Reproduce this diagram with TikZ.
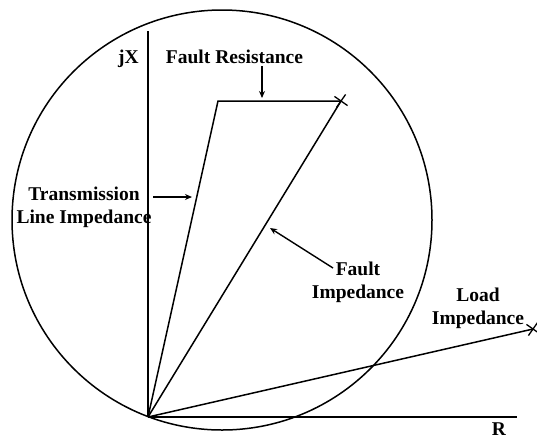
\documentclass[tikz,border=0pt]{standalone}
\usepackage{fontspec}
\setmainfont{Liberation Serif}
\usetikzlibrary{arrows.meta,shapes.misc}
\begin{document}
\begin{tikzpicture}[x=1pt,y=-1pt,
  ln/.style={line width=1.5pt},
  arr/.style={line width=1.4pt,-{Stealth[length=7pt,width=6pt]}},
  lbl/.style={font=\fontsize{19.5}{23}\selectfont\bfseries,inner sep=0pt,align=center},
  xmark/.style={cross out,draw,line width=1.3pt,minimum size=10pt,inner sep=0pt,rotate=10}]
\useasboundingbox (0,0) rectangle (537,440);
\fill[white] (0,0) rectangle (537,440);
% key points
\coordinate (O) at (148,417);
\coordinate (A) at (218,101);
\coordinate (F) at (341,101);
\coordinate (L) at (533,329);
\coordinate (Ytop) at (148,31);
\coordinate (Xend) at (517,417);
% circle
\draw[ln] (222,220) circle[radius=210];
% axes
\draw[ln] (O) -- (Ytop);
\draw[ln] (O) -- (Xend);
% impedance lines
\draw[ln] (O) -- (A) -- (F);
\draw[ln] (O) -- (F);
\draw[ln] (O) -- (L);
\node[xmark] (fx) at (F) {};
\node[xmark] (lx) at (L) {};
% labels
\node[lbl,anchor=base] (jx) at (128.5,63) {jX};
\node[lbl,anchor=base] (fr) at (234.5,63) {Fault Resistance};
\node[lbl] (tl) at (84,207) {Transmission\\Line Impedance};
\node[lbl] (fi) at (358,282) {Fault\\Impedance};
\node[lbl] (li) at (478,308) {Load\\Impedance};
\node[lbl,anchor=base] (r) at (499,435) {R};
% arrows
\coordinate (fra) at (262,66);
\coordinate (frb) at (262,98);
\coordinate (tla) at (153,197);
\coordinate (tlb) at (192,197);
\coordinate (fia) at (333,268);
\coordinate (fib) at (270,228);
\draw[arr] (fra) -- (frb);
\draw[arr] (tla) -- (tlb);
\draw[arr] (fia) -- (fib);
\end{tikzpicture}
\end{document}
